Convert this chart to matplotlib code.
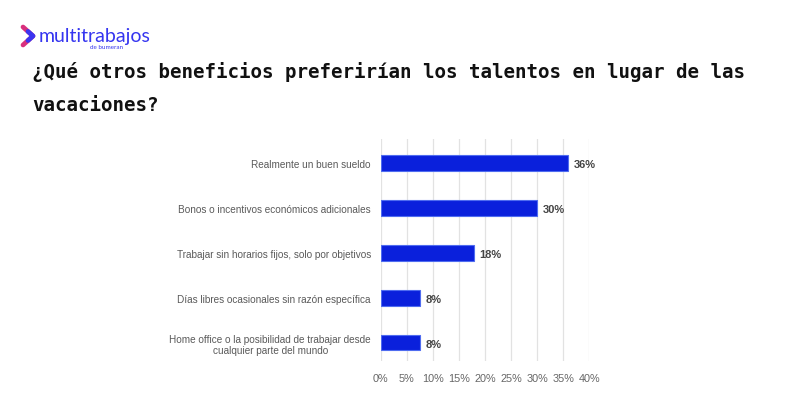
import matplotlib.pyplot as plt
from matplotlib.lines import Line2D

categories = [
    'Realmente un buen sueldo',
    'Bonos o incentivos económicos adicionales',
    'Trabajar sin horarios fijos, solo por objetivos',
    'Días libres ocasionales sin razón específica',
    'Home office o la posibilidad de trabajar desde\ncualquier parte del mundo',
]
values = [36, 30, 17.9, 7.6, 7.6]
value_labels = ['36%', '30%', '18%', '8%', '8%']
xticks = [0, 5, 10, 15, 20, 25, 30, 35, 40]
xtick_labels = ['0%', '5%', '10%', '15%', '20%', '25%', '30%', '35%', '40%']

title_lines = ['¿Qué otros beneficios preferirían los talentos en lugar de las', 'vacaciones?']

fig = plt.figure(figsize=(8, 4.1), dpi=100)
fig.patch.set_facecolor('white')

# logo
fig.add_artist(Line2D([23 / 800, 33 / 800, 23 / 800], [1 - 28 / 410, 1 - 37 / 410, 1 - 46 / 410],
                      transform=fig.transFigure, color='#d8307c', lw=3.4,
                      solid_capstyle='round', solid_joinstyle='round'))
fig.add_artist(Line2D([28 / 800, 33 / 800, 28 / 800], [1 - 32.5 / 410, 1 - 37 / 410, 1 - 41.5 / 410],
                      transform=fig.transFigure, color='#3b34f0', lw=3.4,
                      solid_capstyle='round', solid_joinstyle='round'))
fig.text(39 / 800, 1 - 36.5 / 410, 'multitrabajos', fontsize=14, family='Lato',
         color='#3535f0', va='center', ha='left')
fig.text(107 / 800, 1 - 47.5 / 410, 'de bumeran', fontsize=4.5, family='Lato',
         color='#3535f0', va='center', ha='center')

for i, line in enumerate(title_lines):
    fig.text(32 / 800, 1 - (78 + 33 * i) / 410, line, fontsize=13.8, family='DejaVu Sans Mono',
             fontweight='bold', color='#111111', ha='left', va='baseline')

ax = fig.add_axes([380.7 / 800, 1 - 362 / 410, (589.3 - 380.7) / 800, 222 / 410])
y = list(range(len(categories)))
bars = ax.barh(y, values, height=0.35, color='#0a20dc', edgecolor='#4f6cf0', linewidth=0.8, zorder=3)

for bar, lab in zip(bars, value_labels):
    ax.annotate(lab, (bar.get_width(), bar.get_y() + bar.get_height() / 2),
                xytext=(4, -1), textcoords='offset points', va='center', ha='left',
                fontsize=8, fontweight='bold', color='#444444', family='Liberation Sans')

ax.set_xlim(0, 40)
ax.set_ylim(4.41, -0.535)
ax.set_xticks(xticks)
ax.set_xticklabels(xtick_labels)
ax.set_yticks(y)
ax.set_yticklabels(categories)
for lab in ax.get_yticklabels():
    lab.set_multialignment('center')
    lab.set_family('Liberation Sans')
for lab in ax.get_xticklabels():
    lab.set_family('Liberation Sans')
ax.tick_params(axis='x', length=0, pad=9, labelsize=7.8, labelcolor='#666666')
ax.tick_params(axis='y', length=0, pad=7, labelsize=7.2, labelcolor='#5a5a5a')
ax.grid(axis='x', color='#e2e2e2', linewidth=0.9, zorder=0)
for s in ax.spines.values():
    s.set_visible(False)

fig.savefig('out.png', dpi=100, facecolor='white')
